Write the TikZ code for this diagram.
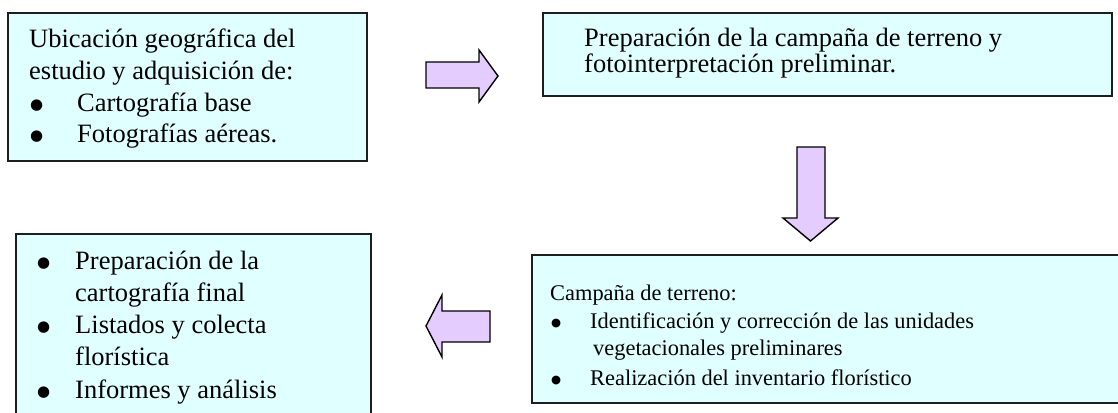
\documentclass[tikz,border=0pt]{standalone}
\usepackage{fontspec}
\setmainfont{Liberation Serif}
\newfontfamily\bulfont{DejaVu Sans}
\definecolor{boxfill}{RGB}{224,255,255}
\definecolor{arrowfill}{RGB}{229,204,255}
\definecolor{boxline}{RGB}{30,30,30}
\newcommand{\mybul}{{\bulfont\fontsize{15pt}{15pt}\selectfont\raisebox{1.5pt}{●}}}
\newcommand{\mysbul}{{\bulfont\fontsize{11.5pt}{11.5pt}\selectfont\raisebox{1.5pt}{●}}}
\begin{document}
\begin{tikzpicture}[x=1pt,y=-1pt,
  box/.style={draw=boxline,line width=1.6pt,fill=boxfill,rectangle,anchor=north west,inner sep=0pt,outer sep=0pt},
  txt/.style={anchor=base west,inner sep=0pt,font=\fontsize{26.5pt}{31pt}\selectfont},
  stxt/.style={anchor=base west,inner sep=0pt,font=\fontsize{22.4pt}{28pt}\selectfont},
  bul/.style={anchor=base west,inner sep=0pt},
  blockarrow/.style={draw=black,line width=1.4pt,fill=arrowfill,line join=miter}]
\useasboundingbox (0,0) rectangle (1118,412);
\clip (0,0) rectangle (1118,412);
% boxes
\node[box,minimum width=359pt,minimum height=148pt] (b1) at (8,13) {};
\node[box,minimum width=569pt,minimum height=83pt] (b2) at (543,13) {};
\node[box,minimum width=593pt,minimum height=148pt] (b3) at (532,255) {};
\node[box,minimum width=355pt,minimum height=186pt] (b4) at (16,234) {};
% box 1 text
\node[txt] (t11) at (29,48) {Ubicación geográfica del};
\node[txt] (t12) at (29,79) {estudio y adquisición de:};
\node[bul] (t13b) at (30,111) {\mybul};
\node[txt] (t13) at (77,111) {Cartografía base};
\node[bul] (t14b) at (30,142) {\mybul};
\node[txt] (t14) at (77,142) {Fotografías aéreas.};
% box 2 text
\node[txt] (t21) at (584,47) {Preparación de la campaña de terreno y};
\node[txt] (t22) at (584,73) {fotointerpretación preliminar.};
% box 3 text
\node[stxt] (t31) at (550,300) {Campaña de terreno:};
\node[bul] (t32b) at (551,328) {\mysbul};
\node[stxt] (t32) at (590,328) {Identificación y corrección de las unidades};
\node[stxt] (t33) at (593,355) {vegetacionales preliminares};
\node[bul] (t34b) at (551,385) {\mysbul};
\node[stxt] (t34) at (590,385) {Realización del inventario florístico};
% box 4 text
\node[bul] (t41b) at (37,269) {\mybul};
\node[txt] (t41) at (75,269) {Preparación de la};
\node[txt] (t42) at (75,301) {cartografía final};
\node[bul] (t43b) at (37,333) {\mybul};
\node[txt] (t43) at (75,333) {Listados y colecta};
\node[txt] (t44) at (75,365) {florística};
\node[bul] (t45b) at (37,398) {\mybul};
\node[txt] (t45) at (75,398) {Informes y análisis};
% block arrows
\draw[blockarrow] (426,62) -- (479,62) -- (479,50) -- (498,76) -- (479,102) -- (479,88) -- (426,88) -- cycle;
\draw[blockarrow] (797,147) -- (825,147) -- (825,218) -- (838,218) -- (810.5,241) -- (783,218) -- (797,218) -- cycle;
\draw[blockarrow] (490,311) -- (442,311) -- (442,295) -- (426,326) -- (442,357) -- (442,342) -- (490,342) -- cycle;
\end{tikzpicture}
\end{document}
